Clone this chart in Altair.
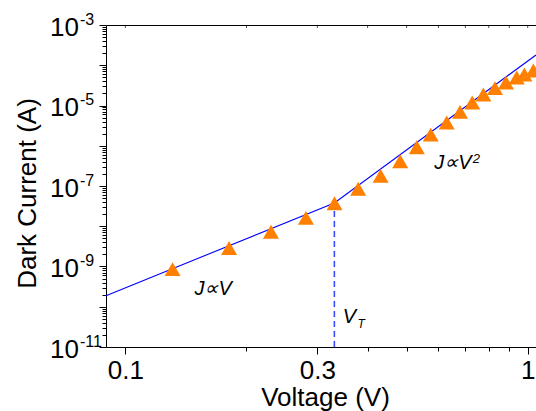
import altair as alt
import pandas as pd

# ---- data ----
voltage = [0.131, 0.181, 0.230, 0.281, 0.331, 0.379, 0.431, 0.482, 0.530, 0.574,
           0.629, 0.679, 0.728, 0.776, 0.829, 0.883, 0.939, 0.981, 1.033]
current = [8.6e-10, 2.88e-9, 7.3e-9, 1.62e-8, 3.72e-8, 8.57e-8, 1.79e-7, 4.13e-7,
           9.2e-7, 1.89e-6, 3.78e-6, 6.97e-6, 1.19e-5, 1.88e-5, 2.71e-5, 3.73e-5,
           4.96e-5, 5.89e-5, 7.41e-5]

fit_v = [0.0895, 0.3307, 1.0486]
fit_j = [1.88e-10, 3.79e-8, 1.80e-4]

vt_v = [0.3307, 0.3307]
vt_j = [1e-11, 3.79e-8]

y_label_exps = [-3, -5, -7, -9, -11]
x_tick_vals = [0.1, 0.2, 0.3, 0.4, 0.5, 0.6, 0.7, 0.8, 0.9, 1.0]
x_label_vals = [0.1, 0.3, 1.0]
y_tick_vals = [m * 10.0 ** e for e in range(-11, -3) for m in range(1, 10)] + [1e-3]

ann_text = ["J\u221dV", "J\u221dV", "V"]
ann_v = [0.1838, 0.7256, 0.3744]
ann_j = [2.01e-10, 2.60e-7, 3.88e-11]
sup_text = ["2"]
sup_v = [0.7256]
sup_j = [2.60e-7]
sub_text = ["T"]
sub_v = [0.3744]
sub_j = [3.88e-11]

FONT = "Liberation Sans"
W, H = 430, 322

xscale = alt.Scale(type="log", domain=[0.0895, 1.0486], nice=False)
yscale = alt.Scale(type="log", domain=[1e-11, 1e-3], nice=False)

fit_df = pd.DataFrame({"v": fit_v, "j": fit_j})
pts_df = pd.DataFrame({"v": voltage, "j": current})
vt_df = pd.DataFrame({"v": vt_v, "j": vt_j})
ylab_df = pd.DataFrame({"j": [10.0 ** e for e in y_label_exps],
                        "base": ["10"] * len(y_label_exps),
                        "exp": [str(e) for e in y_label_exps]})
ann_df = pd.DataFrame({"v": ann_v, "j": ann_j, "t": ann_text})
sup_df = pd.DataFrame({"v": sup_v, "j": sup_j, "t": sup_text})
sub_df = pd.DataFrame({"v": sub_v, "j": sub_j, "t": sub_text})
top_df = pd.DataFrame({"v": x_tick_vals})

label_test = " || ".join(f"datum.value == {v}" for v in x_label_vals)
y_major_test = "abs(log(datum.value)/LN10 - round(log(datum.value)/LN10)) < 0.001"

x_axis = alt.Axis(
    values=x_tick_vals, format="~g",
    labelExpr=f"({label_test}) ? datum.label : ''",
    labelOverlap=False, labelFlush=False,
    tickSize=alt.condition(label_test, alt.value(7), alt.value(4)),
    tickColor="black", domainColor="black", tickWidth=1, domainWidth=1,
    labelFont=FONT, labelFontSize=26, labelColor="black",
    labelBaseline="alphabetic", labelPadding=24,
    title="Voltage (V)", titleFont=FONT, titleFontSize=26, titleFontWeight="normal",
    titleColor="black", titleX=219, titleY=58, titleBaseline="alphabetic",
    titleAlign="center", grid=False,
)
y_axis = alt.Axis(
    values=y_tick_vals, labels=False,
    tickSize=alt.condition(y_major_test, alt.value(7), alt.value(4)),
    tickColor="black", domainColor="black", tickWidth=1, domainWidth=1,
    title="Dark Current (A)", titleFont=FONT, titleFontSize=26, titleFontWeight="normal",
    titleColor="black", titleAngle=270, titleX=-71, titleY=168,
    titleBaseline="alphabetic", titleAlign="center", grid=False,
)

def X(axis=None):
    return alt.X("v:Q", scale=xscale, axis=axis)

def Y(axis=None):
    return alt.Y("j:Q", scale=yscale, axis=axis)

line = alt.Chart(fit_df).mark_line(color="#0000ff", strokeWidth=1.1).encode(
    x=X(x_axis), y=Y(y_axis))

vt = alt.Chart(vt_df).mark_line(color="#3a4dff", strokeWidth=1.6, strokeDash=[6, 4]).encode(
    x=X(), y=Y())

pts = alt.Chart(pts_df).mark_point(shape="triangle-up", filled=True, size=256,
                                   color="#ff8000", opacity=1).encode(x=X(), y=Y())

top = alt.Chart(top_df).mark_tick(color="black", thickness=1, size=3).encode(
    x=X(alt.Axis(orient="top", labels=False, ticks=False, domain=True,
                 domainColor="black", title=None, grid=False)),
    y=alt.value(1.5))

ylab_base = alt.Chart(ylab_df).mark_text(align="right", baseline="alphabetic",
                                         font=FONT, fontSize=26, color="black", dy=10.5).encode(
    y=Y(), x=alt.value(-27), text="base:N")
ylab_exp = alt.Chart(ylab_df).mark_text(align="left", baseline="alphabetic",
                                        font=FONT, fontSize=16, color="black", dy=-0.5).encode(
    y=Y(), x=alt.value(-26), text="exp:N")

ann = alt.Chart(ann_df).mark_text(align="right", baseline="alphabetic", font=FONT,
                                  fontSize=20, fontStyle="italic", color="black").encode(
    x=X(), y=Y(), text="t:N")
sup = alt.Chart(sup_df).mark_text(align="left", baseline="alphabetic", font=FONT,
                                  fontSize=13, fontStyle="italic", color="black", dx=1, dy=-6.6).encode(
    x=X(), y=Y(), text="t:N")
sub = alt.Chart(sub_df).mark_text(align="left", baseline="alphabetic", font=FONT,
                                  fontSize=12, fontStyle="italic", color="black", dx=1.5, dy=5).encode(
    x=X(), y=Y(), text="t:N")

chart = alt.layer(line, vt, pts, top, ylab_base, ylab_exp, ann, sup, sub).resolve_axis(
    x="independent", y="independent"
).properties(
    width=W, height=H,
    autosize=alt.AutoSizeParams(type="none"),
    padding={"left": 106, "top": 25, "right": 0, "bottom": 64},
    background="white",
).configure_view(stroke=None)

chart.save("out.html", embed_options={"renderer": "svg", "actions": False})
